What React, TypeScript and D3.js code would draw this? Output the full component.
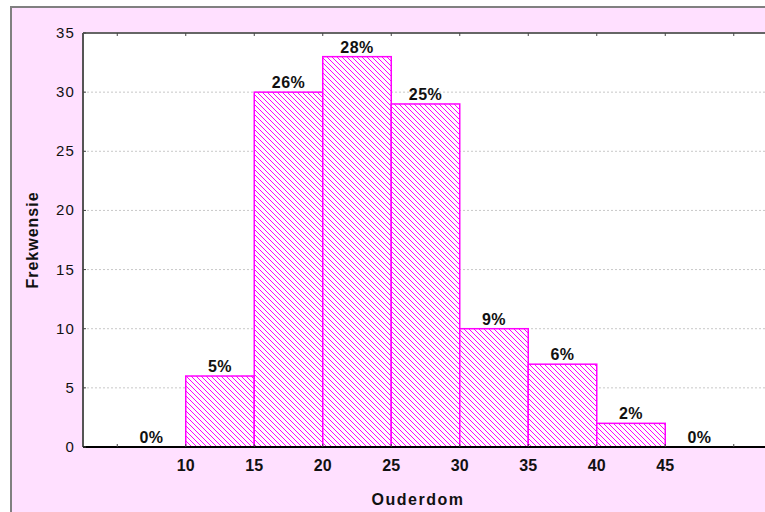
import React from "react";
import * as d3 from "d3";

const binStarts = [5, 10, 15, 20, 25, 30, 35, 40, 45];
const counts = [0, 6, 30, 33, 29, 10, 7, 2, 0];
const pctLabels = ["0%", "5%", "26%", "28%", "25%", "9%", "6%", "2%", "0%"];
const binWidth = 5;
const xTickLabels = [10, 15, 20, 25, 30, 35, 40, 45];
const xTickMarks = [5, 50];
const yTicks = [0, 5, 10, 15, 20, 25, 30, 35];

const W = 765;
const H = 512;
const font = "'Liberation Sans', Arial, sans-serif";
const PINK = "#FFE0FF";
const MAG = "#FF00FF";

export default function App() {
  const left = 83;
  const top = 33;
  const bottom = 447;
  const x = d3.scaleLinear().domain([2.5, 52.5]).range([left, 768]);
  const y = d3.scaleLinear().domain([0, 35]).range([bottom, top]);
  const right = 800;

  return (
    <svg
      width={W}
      height={H}
      style={{ position: "absolute", left: 0, top: 0, display: "block" }}
    >
      <defs>
        <pattern
          id="hatch"
          patternUnits="userSpaceOnUse"
          width={5}
          height={5}
        >
          <rect width={5} height={5} fill="white" />
          <path d="M-1,-1 L6,6 M-1,4 L1,6 M4,-1 L6,1" stroke={MAG} strokeWidth={1} />
        </pattern>
      </defs>
      <rect x={0} y={0} width={W} height={H} fill="white" />
      <rect x={11} y={7} width={W + 20} height={H + 20} fill={PINK} stroke="#808080" strokeWidth={2} />
      <rect x={left} y={top} width={right - left} height={bottom - top} fill="white" />
      {/* grid */}
      {yTicks
        .filter((t) => t > 0 && t < 35)
        .map((t) => (
          <line
            key={"g" + t}
            x1={left}
            x2={right}
            y1={y(t)}
            y2={y(t)}
            stroke="#c8c8c8"
            strokeDasharray="2,2"
            strokeWidth={1}
          />
        ))}
      {/* bars */}
      {binStarts.map((b, i) =>
        counts[i] > 0 ? (
          <rect
            key={"b" + i}
            x={x(b)}
            y={y(counts[i])}
            width={x(b + binWidth) - x(b)}
            height={y(0) - y(counts[i])}
            fill="url(#hatch)"
            stroke={MAG}
            strokeWidth={1.5}
          />
        ) : null
      )}
      {/* percent labels */}
      {binStarts.map((b, i) => (
        <text
          key={"p" + i}
          x={x(b + binWidth / 2)}
          y={y(counts[i]) - 4}
          textAnchor="middle"
          fontFamily={font}
          fontWeight="bold"
          fontSize={16}
          letterSpacing={0.5}
          fill="#111"
        >
          {pctLabels[i]}
        </text>
      ))}
      {/* axes lines */}
      <line x1={left} x2={right} y1={top} y2={top} stroke="#666" strokeWidth={2} />
      <line x1={left} x2={left} y1={top} y2={bottom} stroke="#555" strokeWidth={2} />
      <line x1={left} x2={right} y1={bottom} y2={bottom} stroke="#000" strokeWidth={2} />
      {/* y ticks */}
      {yTicks.map((t) => (
        <g key={"y" + t}>
          <line x1={left} x2={left + 3} y1={y(t)} y2={y(t)} stroke="#444" strokeWidth={1} />
          <text
            x={75}
            y={y(t) + 5}
            textAnchor="end"
            fontFamily={font}
            fontSize={15}
            letterSpacing={1.2}
            fill="#111"
          >
            {t}
          </text>
        </g>
      ))}
      {/* x ticks */}
      {[...xTickMarks, ...xTickLabels].map((t) => (
        <g key={"xt" + t}>
          <line x1={x(t)} x2={x(t)} y1={bottom} y2={bottom - 3} stroke="#444" strokeWidth={1} />
          <line x1={x(t)} x2={x(t)} y1={top} y2={top + 3} stroke="#444" strokeWidth={1} />
        </g>
      ))}
      {xTickLabels.map((t) => (
        <text
          key={"xl" + t}
          x={x(t)}
          y={471}
          textAnchor="middle"
          fontFamily={font}
          fontWeight="bold"
          fontSize={16}
          fill="#111"
        >
          {t}
        </text>
      ))}
      <text
        x={418}
        y={505}
        textAnchor="middle"
        fontFamily={font}
        fontWeight="bold"
        fontSize={16}
        fill="#111"
        letterSpacing={1.5}
      >
        Ouderdom
      </text>
      <text
        transform={`translate(38, ${(top + bottom) / 2}) rotate(-90)`}
        textAnchor="middle"
        fontFamily={font}
        fontWeight="bold"
        fontSize={16}
        fill="#111"
        letterSpacing={1}
      >
        Frekwensie
      </text>
    </svg>
  );
}
